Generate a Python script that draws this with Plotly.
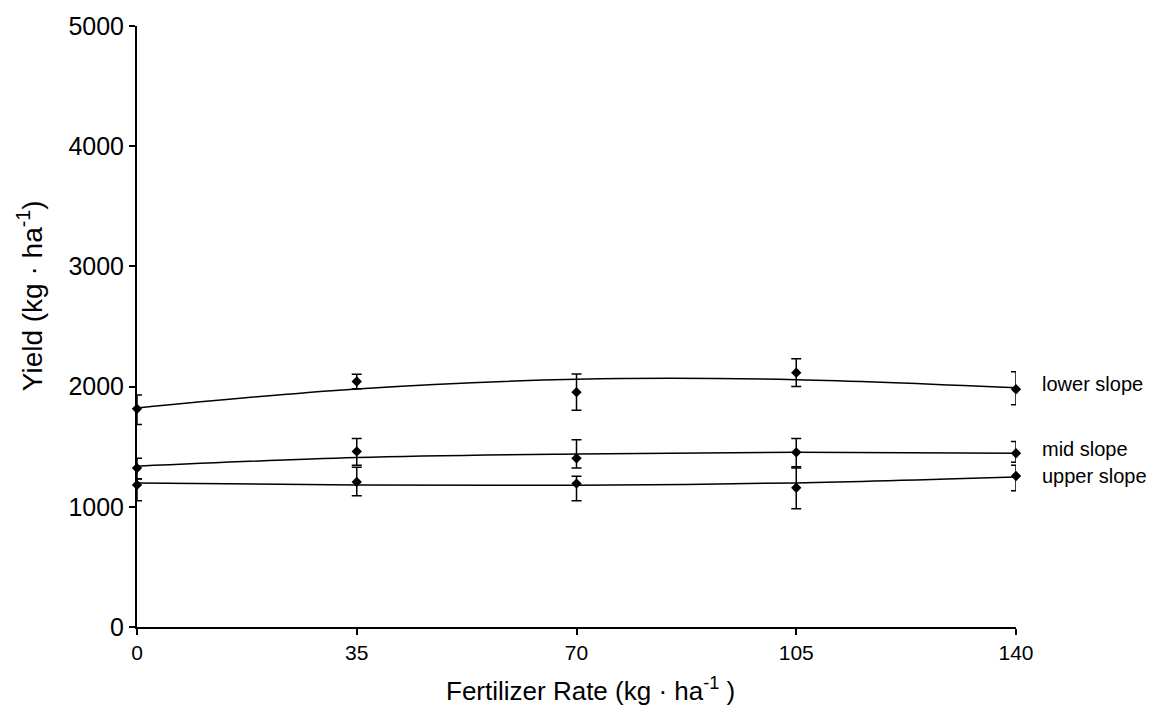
import plotly.graph_objects as go

# ---- data ----
rates = [0, 35, 70, 105, 140]

lower_yield = [1815, 2042, 1954, 2116, 1978]
lower_err_plus = [115, 60, 150, 115, 146]
lower_err_minus = [130, 60, 150, 115, 130]
lower_fit = [1823, 1981, 2061, 2058, 1990]

mid_yield = [1322, 1461, 1404, 1453, 1445]
mid_err_plus = [82, 107, 154, 115, 99]
mid_err_minus = [90, 115, 82, 131, 74]
mid_fit = [1338, 1410, 1440, 1453, 1446]

upper_yield = [1182, 1207, 1193, 1158, 1256]
upper_err_plus = [52, 123, 61, 175, 90]
upper_err_minus = [131, 115, 142, 175, 123]
upper_fit = [1199, 1182, 1180, 1199, 1248]

series_labels = ["lower slope", "mid slope", "upper slope"]
label_y = [2019, 1479, 1256]
x_ticks = [0, 35, 70, 105, 140]
y_ticks = [0, 1000, 2000, 3000, 4000, 5000]

FONT = "Arial, Liberation Sans, Helvetica, sans-serif"

# plot-area pixel geometry (layout only)
L, R, T, B = 137, 1016, 22, 627

fig = go.Figure()

for fit in (lower_fit, mid_fit, upper_fit):
    fig.add_trace(go.Scatter(
        x=rates, y=fit, mode="lines",
        line=dict(color="black", width=1.5, shape="spline", smoothing=1.0),
        cliponaxis=False, showlegend=False, hoverinfo="skip"))

for y, ep, em in ((lower_yield, lower_err_plus, lower_err_minus),
                  (mid_yield, mid_err_plus, mid_err_minus),
                  (upper_yield, upper_err_plus, upper_err_minus)):
    fig.add_trace(go.Scatter(
        x=rates, y=y, mode="markers",
        marker=dict(symbol="diamond", size=8, color="black"),
        error_y=dict(type="data", symmetric=False, array=ep, arrayminus=em,
                     color="black", thickness=1.5, width=5),
        cliponaxis=False, showlegend=False))

for txt, yy in zip(series_labels, label_y):
    fig.add_annotation(x=(1040 - L) / (R - L), xref="paper", y=yy, yref="y", text=txt,
                       showarrow=False, xanchor="left", yanchor="middle",
                       font=dict(family=FONT, size=20, color="black"))

fig.add_annotation(x=(590 - L) / (R - L), xref="paper",
                   y=-(690 - B) / (B - T), yref="paper",
                   text="Fertilizer Rate (kg · ha<sup>-1</sup> )", showarrow=False,
                   xanchor="center", yanchor="middle",
                   font=dict(family=FONT, size=26, color="black"))
fig.add_annotation(x=-(L - 30) / (R - L), xref="paper",
                   y=(B - 294) / (B - T), yref="paper",
                   text="Yield (kg · ha<sup>-1</sup>)", showarrow=False, textangle=-90,
                   xanchor="center", yanchor="middle",
                   font=dict(family=FONT, size=28, color="black"))

fig.update_xaxes(range=[0, 140], tickvals=x_ticks, ticktext=[str(v) for v in x_ticks],
                 showline=True, linecolor="black", linewidth=2,
                 ticks="outside", ticklen=6, tickcolor="black", tickwidth=1.5,
                 showgrid=False, zeroline=False,
                 tickfont=dict(family=FONT, size=21, color="black"))
fig.update_yaxes(range=[0, 5000], tickvals=y_ticks, ticktext=[str(v) for v in y_ticks],
                 showline=True, linecolor="black", linewidth=2,
                 ticks="outside", ticklen=6, tickcolor="black", tickwidth=1.5,
                 showgrid=False, zeroline=False,
                 tickfont=dict(family=FONT, size=25, color="black"))

fig.update_layout(width=1168, height=712,
                  margin=dict(l=L, r=1168 - R, t=T, b=712 - B),
                  paper_bgcolor="white", plot_bgcolor="white",
                  showlegend=False)

fig.write_html("out.html")
